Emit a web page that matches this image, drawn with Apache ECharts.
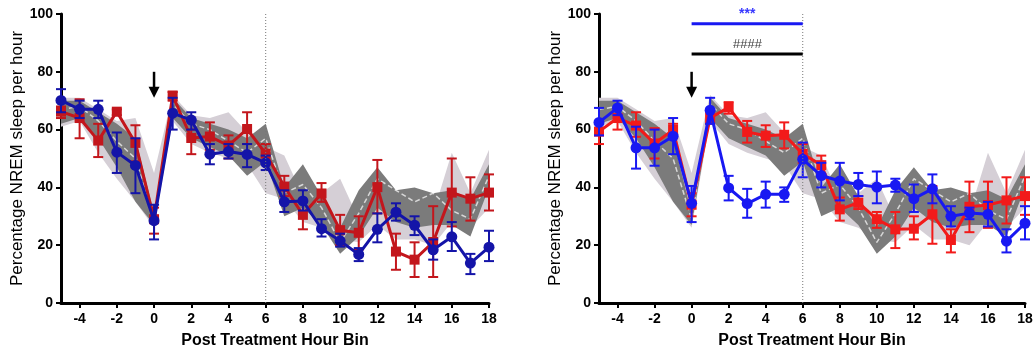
<!DOCTYPE html>
<html>
<head>
<meta charset="utf-8">
<script src="https://cdn.jsdelivr.net/npm/echarts@6/dist/echarts.min.js"></script>
<style>html,body{margin:0;padding:0;background:#fff}#c{width:1036px;height:354px}</style>
</head>
<body>
<div id="c"></div>
<script>
// ---------- data ----------
const hours = [-5,-4,-3,-2,-1,0,1,2,3,4,5,6,7,8,9,10,11,12,13,14,15,16,17,18];
const xTicks = [-4,-2,0,2,4,6,8,10,12,14,16,18];
const yTicks = [0,20,40,60,80,100];

// control bands (shared by both panels)
const darkLow  = [62,64,57,47,35,27,64,57,54,51,44,49,30,33,27,17,23,33,28,26,27,27,23,40];
const darkHigh = [70,70,66,62,57,31,71,64,62,60,57,62,40,48,37,26,39,47,39,40,38,39,36,48];
const lightLow = [61,63,52,43,35,26,63,55,52,50,48,38,36,28,26,22,21,27,22,22,20,28,26,33];
const lightHigh= [71,71,67,63,64,45,72,65,64,66,59,54,51,37,38,43,29,39,38,30,31,52,38,53];
const ctrlMean = [67,68,63,56,50,29,69,62,60,56,52,57,38,41,33,21,31,43,39,35,38,32,29,44];

// left panel
const leftBlue    = [70.1,67.0,67.0,52.2,47.6,28.5,65.7,63.3,51.5,52.4,51.4,48.5,35.0,35.3,25.7,21.5,16.8,25.5,31.4,26.9,18.4,22.9,13.8,19.3];
const leftBlueLo  = [66,64,64,45,38,22,60,60,48,50,47,46,31.5,32,23,19.5,14.5,21,28.5,23.5,15,18,10,14.5];
const leftBlueHi  = [74,70,70,59,57,34,71,66,55,55,55,51,39,39,29,24,19,31,34.5,30,22,28,17,25];
const leftRed     = [66.2,64.0,56.2,66.2,55.4,29.0,71.8,57.1,57.6,54.5,60.2,51.7,40.3,30.5,37.9,25.2,24.3,40.1,17.8,15.0,21.1,38.2,36.1,38.2];
const leftRedLo   = [64,57,50.5,65,49,24,70,51.5,53,50,55,49,37,25.5,35,20,18.5,31,11.5,9,9,26.5,28.5,32];
const leftRedHi   = [68,70.5,62,67,61.5,33,73,60,62.5,58,66,55,44,35,41.5,30.5,30,49.5,24,21,33.5,50,43.5,44.5];

// right panel
const rightBlue   = [62.5,67.5,53.7,53.7,57.7,34.5,66.7,39.8,34.4,37.6,37.6,49.7,44.1,42.2,41.0,40.1,40.8,36.1,39.5,30.0,31.1,30.7,21.4,27.6];
const rightBlueLo = [58,65,46.5,47.5,51.5,28,62,35.5,29.5,33,35,43.5,40,35.5,37,34.5,38.5,31.5,34.5,26.5,29,26.5,17.5,22];
const rightBlueHi = [67.5,70,61,60,64,40.5,71,44,39.5,42,40,55.5,48.5,48.5,45,45.5,43,41,44.5,33.5,33,35,25.5,33.5];
const rightRed    = [59.3,64.0,61.4,55.2,59.9,34.0,64.0,67.7,59.2,57.9,58.2,51.6,47.7,32.4,34.7,29.0,25.5,25.7,30.7,21.8,33.3,33.9,35.5,37.0];
const rightRedLo  = [55,60,57.5,50,57,30,62,65.5,55.5,54,53.5,48.5,44.5,28.5,32.5,26,19,22,20.5,17.5,24.5,26,27.5,30.5];
const rightRedHi  = [63,67.5,66,60.5,62,38,66,69.5,63,61.5,62.5,55,51,36.5,37,31.5,31.5,30,40.5,25.5,42,42,43.5,43.5];

// annotations
const arrowX = 0, arrowTop = 80, arrowTip = 71;
const endLineX = 6;
const sigBlue  = {from:0, to:6, y:96.6, text:'***', textY:99.8};
const sigBlack = {from:0, to:6, y:86.2, text:'####', textY:89.6};

// ---------- styling ----------
const FONT = 'Liberation Sans, Arial, sans-serif';
const colors = {
  leftRed:'#c3161c', leftBlue:'#1414a8',
  rightRed:'#f21a1a', rightBlue:'#1818f2',
  dark:'#7b7b7b', light:'#d5cfd6'
};

function zip(xs, ys){ return xs.map((x,i)=>[x, ys[i]]); }

function bandSeries(gi, lows, highs, color, z){
  return {
    type:'custom', xAxisIndex:gi, yAxisIndex:gi, silent:true, z:z,
    data:[[hours[0], lows[0]]],
    renderItem:function(params, api){
      const pts = [];
      for (let i=0;i<hours.length;i++) pts.push(api.coord([hours[i], highs[i]]));
      for (let i=hours.length-1;i>=0;i--) pts.push(api.coord([hours[i], lows[i]]));
      return {type:'polygon', shape:{points:pts}, style:{fill:color}};
    }
  };
}

function errSeries(gi, lo, hi, color, z){
  return {
    type:'custom', xAxisIndex:gi, yAxisIndex:gi, silent:true, z:z,
    data: hours.map((h,i)=>[h, lo[i], hi[i]]),
    encode:{x:0, y:[1,2]},
    renderItem:function(params, api){
      const a = api.coord([api.value(0), api.value(1)]);
      const b = api.coord([api.value(0), api.value(2)]);
      const w = 5;
      const st = {stroke:color, lineWidth:2};
      return {type:'group', children:[
        {type:'line', shape:{x1:a[0],y1:a[1],x2:b[0],y2:b[1]}, style:st},
        {type:'line', shape:{x1:a[0]-w,y1:a[1],x2:a[0]+w,y2:a[1]}, style:st},
        {type:'line', shape:{x1:b[0]-w,y1:b[1],x2:b[0]+w,y2:b[1]}, style:st}
      ]};
    }
  };
}

function lineSeries(gi, vals, color, symbol, z){
  return {
    type:'line', xAxisIndex:gi, yAxisIndex:gi, z:z, silent:true,
    data: zip(hours, vals),
    symbol:symbol, symbolSize: symbol==='rect'?10:11,
    showAllSymbol:true,
    lineStyle:{color:color, width:3},
    itemStyle:{color:color, borderWidth:0},
    animation:false
  };
}

function meanLine(gi){
  return {
    type:'line', xAxisIndex:gi, yAxisIndex:gi, z:2, silent:true,
    data: zip(hours, ctrlMean), symbol:'none',
    lineStyle:{color:'rgba(255,255,255,0.7)', width:1.5, type:[5,3]}
  };
}

function annotSeries(gi, withSig){
  return {
    type:'custom', xAxisIndex:gi, yAxisIndex:gi, silent:true, z:10, clip:false,
    data:[[arrowX, arrowTop]],
    renderItem:function(params, api){
      const top = api.coord([arrowX, arrowTop]);
      const tip = api.coord([arrowX, arrowTip]);
      const headH = 11, headW = 5.5;
      const children = [
        {type:'line', shape:{x1:top[0],y1:top[1],x2:tip[0],y2:tip[1]-headH+2}, style:{stroke:'#000', lineWidth:2.5}},
        {type:'polygon', shape:{points:[[tip[0]-headW, tip[1]-headH],[tip[0]+headW, tip[1]-headH],[tip[0], tip[1]]]}, style:{fill:'#000'}}
      ];
      const v0 = api.coord([endLineX, 0]);
      const v1 = api.coord([endLineX, 100]);
      children.push({type:'line', shape:{x1:v0[0],y1:v0[1],x2:v1[0],y2:v1[1]}, style:{stroke:'#777', lineWidth:1, lineDash:[1,2]}});
      if (withSig){
        [[sigBlue,'#1818f2','#3a3aff','bold 14px '],[sigBlack,'#000','#444','italic 13px ']].forEach(function(s){
          const d = s[0];
          const p0 = api.coord([d.from, d.y]);
          const p1 = api.coord([d.to, d.y]);
          const pt = api.coord([(d.from+d.to)/2, d.textY]);
          children.push({type:'line', shape:{x1:p0[0],y1:p0[1],x2:p1[0],y2:p1[1]}, style:{stroke:s[1], lineWidth:3}});
          children.push({type:'text', x:pt[0], y:pt[1], style:{text:d.text, fill:s[2], font:s[3]+FONT, align:'center', verticalAlign:'middle'}});
        });
      }
      return {type:'group', children:children};
    }
  };
}

function xAxis(gi){
  return {
    type:'value', gridIndex:gi, min:-5, max:18,
    axisLine:{show:true, onZero:false, lineStyle:{color:'#000', width:3}},
    axisTick:{show:true, customValues:xTicks, length:5, lineStyle:{color:'#000', width:2}},
    axisLabel:{customValues:xTicks, fontSize:14, fontWeight:'bold', color:'#000', margin:9, fontFamily:FONT},
    splitLine:{show:false},
    name:'Post Treatment Hour Bin', nameLocation:'middle', nameGap:30,
    nameTextStyle:{fontSize:16, fontWeight:'bold', color:'#000', fontFamily:FONT}
  };
}
function yAxis(gi){
  return {
    type:'value', gridIndex:gi, min:0, max:100, interval:20,
    axisLine:{show:true, onZero:false, lineStyle:{color:'#000', width:3}},
    axisTick:{show:true, length:5, lineStyle:{color:'#000', width:2}},
    axisLabel:{fontSize:14, fontWeight:'bold', color:'#000', margin:8, fontFamily:FONT},
    splitLine:{show:false},
    name:'Percentage NREM sleep per hour', nameLocation:'middle', nameGap:34,
    nameTextStyle:{fontSize:17, fontWeight:'normal', color:'#000', fontFamily:FONT}
  };
}

const chart = echarts.init(document.getElementById('c'), null, {renderer:'canvas'});
chart.setOption({
  animation:false,
  backgroundColor:'#fff',
  grid:[
    {left:61, top:14, width:428, height:290},
    {left:599, top:14, width:426, height:290}
  ],
  xAxis:[xAxis(0), xAxis(1)],
  yAxis:[yAxis(0), yAxis(1)],
  series:[
    bandSeries(0, lightLow, lightHigh, colors.light, 1),
    bandSeries(0, darkLow, darkHigh, colors.dark, 1),
    meanLine(0),
    errSeries(0, leftRedLo, leftRedHi, colors.leftRed, 3),
    lineSeries(0, leftRed, colors.leftRed, 'rect', 4),
    errSeries(0, leftBlueLo, leftBlueHi, colors.leftBlue, 5),
    lineSeries(0, leftBlue, colors.leftBlue, 'circle', 6),
    annotSeries(0, false),

    bandSeries(1, lightLow, lightHigh, colors.light, 1),
    bandSeries(1, darkLow, darkHigh, colors.dark, 1),
    meanLine(1),
    errSeries(1, rightRedLo, rightRedHi, colors.rightRed, 3),
    lineSeries(1, rightRed, colors.rightRed, 'rect', 4),
    errSeries(1, rightBlueLo, rightBlueHi, colors.rightBlue, 5),
    lineSeries(1, rightBlue, colors.rightBlue, 'circle', 6),
    annotSeries(1, true)
  ]
});
</script>
</body>
</html>
